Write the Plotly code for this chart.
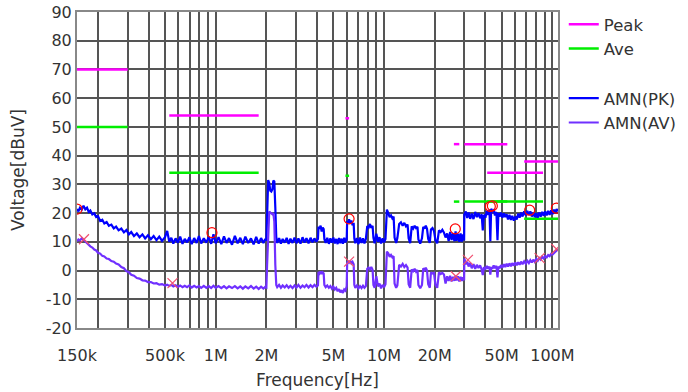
import math
import plotly.graph_objects as go

# ---------------- data (frequencies in MHz, levels in dBuV) ----------------
freq_mhz = [
    0.150, 0.153, 0.156, 0.160, 0.164, 0.168, 0.172, 0.176, 0.180, 0.185,
    0.190, 0.195, 0.200, 0.206, 0.212, 0.218, 0.225, 0.232, 0.240, 0.248,
    0.256, 0.265, 0.275, 0.285, 0.295, 0.305, 0.315, 0.327, 0.340, 0.353,
    0.367, 0.381, 0.396, 0.412, 0.428, 0.445, 0.462, 0.480, 0.500, 0.515,
    0.530, 0.545, 0.560, 0.578, 0.596, 0.615, 0.635, 0.655, 0.676, 0.698,
    0.72, 0.745, 0.77, 0.795, 0.82, 0.85, 0.88, 0.91, 0.94, 0.97,
    1.0, 1.04, 1.08, 1.12, 1.16, 1.2, 1.25, 1.3, 1.35, 1.4,
    1.45, 1.5, 1.56, 1.62, 1.68, 1.74, 1.8, 1.86, 1.92, 1.97,
    2.0, 2.02, 2.05, 2.08, 2.11, 2.14, 2.17, 2.2, 2.23, 2.26,
    2.29, 2.32, 2.38, 2.44, 2.5, 2.57, 2.64, 2.71, 2.78, 2.86,
    2.94, 3.02, 3.1, 3.19, 3.28, 3.37, 3.46, 3.56, 3.66, 3.76,
    3.86, 3.96, 4.05, 4.08, 4.14, 4.2, 4.26, 4.32, 4.38, 4.42,
    4.5, 4.6, 4.7, 4.8, 4.9, 5.0, 5.1, 5.2, 5.3, 5.4,
    5.5, 5.6, 5.7, 5.8, 5.9, 6.0, 6.04, 6.12, 6.2, 6.3,
    6.4, 6.5, 6.6, 6.66, 6.75, 6.9, 7.05, 7.2, 7.35, 7.5,
    7.65, 7.8, 7.95, 8.1, 8.25, 8.4, 8.55, 8.65, 8.8, 9.0,
    9.2, 9.4, 9.6, 9.8, 10.0, 10.2, 10.4, 10.6, 10.8, 11.0,
    11.2, 11.4, 11.55, 11.8, 12.0, 12.3, 12.6, 12.9, 13.2, 13.5,
    13.8, 14.0, 14.3, 14.6, 14.9, 15.2, 15.5, 15.8, 16.0, 16.4,
    16.8, 17.1, 17.4, 17.7, 18.0, 18.3, 18.7, 19.0, 19.4, 19.8,
    20.2, 20.7, 21.2, 21.7, 22.2, 22.7, 23.2, 23.7, 24.2, 24.7,
    25.2, 25.7, 26.2, 26.6, 27.0, 27.5, 28.0, 28.5, 29.0, 29.5,
    29.9, 30.0, 30.6, 31.2, 31.8, 32.5, 33.2, 34.0, 34.8, 35.6,
    36.4, 37.2, 38.0, 38.6, 39.2, 40.0, 40.8, 41.6, 42.3, 42.8,
    43.3, 44.0, 44.8, 45.6, 46.5, 47.2, 47.8, 48.6, 49.5, 50.5,
    51.5, 52.5, 53.5, 54.5, 55.6, 56.7, 57.8, 59.0, 60.2, 61.4,
    62.6, 63.9, 65.2, 66.5, 68.0, 69.5, 71.0, 72.5, 74.0, 75.5,
    77.0, 78.6, 80.2, 81.8, 83.5, 85.2, 87.0, 88.8, 90.6, 92.5,
    94.4, 96.3, 98.3, 100.3, 102.4, 104.5, 106.0, 108.0,
]

amn_pk = [
    21.4, 20.6, 21.8, 21.2, 22.6, 21.3, 21.9, 20.4, 20.9, 19.5,
    19.9, 18.6, 18.9, 17.3, 17.7, 16.4, 16.9, 15.6, 16.0, 14.7,
    15.3, 14.0, 14.6, 13.3, 14.1, 12.6, 13.4, 12.0, 12.9, 11.6,
    12.6, 11.2, 12.3, 10.9, 12.0, 10.6, 11.8, 10.3, 11.6, 13.8,
    10.0, 11.4, 9.4, 11.2, 9.7, 11.8, 9.3, 11.0, 9.8, 11.6,
    9.2, 11.3, 9.6, 12.0, 9.4, 11.2, 9.7, 11.7, 9.3, 12.6,
    9.5, 11.6, 9.2, 11.9, 9.6, 11.3, 9.0, 12.1, 9.5, 11.4,
    9.2, 11.8, 9.6, 11.2, 9.1, 11.7, 9.4, 11.3, 9.6, 11.0,
    10.4, 18.0, 31.5, 30.5, 27.8, 27.5, 28.2, 31.3, 31.0, 22.0,
    11.5, 9.6, 11.3, 9.4, 11.0, 9.7, 11.4, 9.3, 11.1, 9.6,
    11.5, 9.5, 11.2, 9.4, 11.6, 9.7, 11.3, 9.5, 11.4, 9.8,
    11.2, 10.0, 11.0, 15.2, 14.6, 15.6, 13.6, 15.0, 14.4, 11.0,
    9.6, 11.4, 9.3, 11.2, 9.7, 11.5, 9.4, 11.0, 9.2, 11.3,
    9.5, 11.1, 9.3, 11.4, 9.8, 10.8, 17.2, 16.6, 17.8, 16.4,
    17.4, 15.8, 16.6, 11.2, 9.5, 11.3, 9.2, 11.5, 9.6, 11.2,
    9.4, 11.0, 15.5, 15.0, 16.2, 14.8, 15.6, 11.4, 9.5, 12.8,
    10.0, 11.6, 9.4, 11.2, 9.8, 11.0, 21.2, 20.0, 18.6, 19.2,
    18.2, 18.8, 11.5, 9.6, 11.3, 16.2, 16.8, 15.6, 16.6, 15.4,
    16.0, 11.2, 9.5, 15.4, 14.6, 15.6, 14.8, 15.2, 10.8, 9.4,
    11.2, 15.2, 14.6, 15.6, 14.5, 11.0, 9.6, 14.3, 14.8, 13.8,
    10.6, 9.5, 14.0, 13.4, 14.2, 13.2, 11.5, 12.9, 10.3, 13.4,
    10.6, 13.0, 10.2, 13.6, 10.4, 12.8, 10.0, 12.9, 10.1, 12.6,
    10.5, 19.5, 20.6, 18.3, 20.2, 18.0, 19.8, 17.9, 20.4, 18.6,
    20.0, 18.2, 19.6, 14.0, 19.4, 18.4, 20.8, 19.4, 21.2, 10.2,
    21.5, 20.6, 21.0, 19.2, 20.4, 10.6, 20.0, 18.8, 20.2, 18.4,
    19.9, 18.6, 19.6, 17.8, 19.4, 17.6, 19.0, 17.4, 18.8, 17.8,
    19.8, 18.4, 20.2, 18.8, 20.6, 19.2, 20.8, 19.4, 20.6, 18.8,
    20.2, 18.6, 20.0, 18.4, 20.2, 18.8, 20.4, 19.0, 20.6, 19.2,
    20.8, 19.4, 21.0, 19.6, 21.2, 20.0, 21.4, 20.6,
]

amn_av = [
    10.2, 10.8, 10.5, 11.2, 10.7, 10.0, 9.4, 9.0, 8.4, 8.0,
    7.3, 7.0, 6.2, 5.9, 5.1, 4.9, 4.2, 4.0, 3.3, 3.1,
    2.4, 2.1, 1.2, 0.8, -0.2, -0.6, -1.5, -1.8, -2.6, -2.8,
    -3.4, -3.5, -4.0, -4.0, -4.5, -4.4, -4.9, -4.7, -5.2, -4.9,
    -5.4, -5.0, -5.5, -5.1, -5.7, -5.2, -5.8, -5.3, -5.8, -5.2,
    -5.9, -5.3, -5.9, -5.4, -6.0, -5.3, -6.0, -5.4, -6.1, -5.3,
    -6.0, -5.4, -6.1, -5.4, -6.2, -5.5, -6.1, -5.4, -6.2, -5.5,
    -6.3, -5.5, -6.2, -5.4, -6.3, -5.6, -6.4, -5.6, -6.3, -5.7,
    -5.9, 2.0, 15.5, 20.6, 20.2, 19.8, 19.6, 20.0, 17.0, 2.0,
    -5.0, -5.8, -5.0, -6.0, -5.2, -5.9, -5.1, -6.0, -5.3, -6.1,
    -5.2, -5.9, -5.0, -6.0, -5.2, -5.8, -5.0, -5.9, -5.1, -5.8,
    -5.0, -5.6, -5.2, -0.5, -1.0, -0.3, -1.2, -0.6, -1.0, -5.0,
    -5.8, -5.2, -6.0, -5.4, -6.3, -5.6, -6.6, -6.0, -7.2, -6.5,
    -7.6, -6.8, -7.8, -6.6, -7.0, -5.5, 2.6, 3.3, 2.8, 3.4,
    2.5, 3.0, 2.2, -5.0, -6.0, -5.2, -6.2, -5.4, -6.1, -5.3,
    -6.0, -5.4, 0.6, 1.0, 0.4, 1.2, 0.3, -5.0, -6.0, -2.0,
    -5.5, -4.5, -6.2, -5.0, -5.8, -4.8, 6.6, 6.0, 4.8, 5.4,
    4.6, 5.0, -4.5, -6.0, -5.2, 2.0, 1.4, 2.3, 1.2, 1.9,
    1.0, -4.8, -6.0, 0.4, -0.2, 0.6, -0.4, 0.2, -5.0, -6.2,
    -5.0, 0.8, 0.2, 1.0, 0.0, -4.8, -6.0, -0.6, -1.0, -0.8,
    -5.0, -6.0, -0.6, -1.2, -0.8, -1.4, -4.5, -2.0, -3.6, -1.8,
    -3.8, -2.2, -3.6, -1.8, -3.4, -2.0, -3.8, -2.2, -3.6, -2.4,
    -3.4, 4.2, 2.2, 3.0, 1.4, 2.6, 0.8, 2.2, 0.6, 2.0,
    0.9, 1.8, 0.4, -1.6, 1.2, 0.4, 1.6, 0.6, 1.4, -1.4,
    1.2, 0.6, 1.8, 0.8, 1.6, -2.4, 1.4, 0.8, 1.9, 1.0,
    2.2, 1.2, 2.4, 1.4, 2.5, 1.5, 2.6, 1.7, 2.8, 1.8,
    2.9, 2.0, 3.1, 2.2, 3.2, 2.4, 3.4, 2.6, 3.6, 2.8,
    3.8, 3.0, 4.0, 3.4, 4.4, 3.8, 4.8, 4.2, 5.0, 4.6,
    5.4, 5.0, 5.8, 5.6, 6.2, 6.4, 6.9, 7.4,
]

# detected peaks
pk_mark_f = [0.150, 0.95, 6.2, 26.5, 42.8, 44.0, 73.3, 105.6]
pk_mark_v = [21.4, 13.2, 18.0, 14.5, 22.3, 22.5, 21.0, 21.7]
av_mark_f = [0.165, 0.554, 6.2, 26.7, 31.5, 84.0, 105.6]
av_mark_v = [10.9, -4.4, 3.1, -2.0, 3.7, 4.3, 7.5]

# limit bands (MHz) and levels
peak_start = [0.15, 0.53, 5.9, 26.0, 30.0, 41.0, 68.0]
peak_stop = [0.30, 1.8, 6.2, 28.0, 54.0, 88.0, 108.0]
peak_level = [70, 54, 53, 44, 44, 34, 38]
ave_start = [0.15, 0.53, 5.9, 26.0, 30.0, 41.0, 68.0]
ave_stop = [0.30, 1.8, 6.2, 28.0, 54.0, 88.0, 108.0]
ave_level = [50, 34, 33, 24, 24, 24, 18]

# axis ticks / gridlines
grid_vals = [0.15, 0.2, 0.3, 0.4, 0.5, 0.6, 0.7, 0.8, 0.9,
             1, 2, 3, 4, 5, 6, 7, 8, 9,
             10, 20, 30, 40, 50, 60, 70, 80, 90, 100]
grid_text = ["150k", "", "", "", "500k", "", "", "", "",
             "1M", "2M", "", "", "5M", "", "", "", "",
             "10M", "20M", "", "", "50M", "", "", "", "", "100M"]
y_ticks = [-20, -10, 0, 10, 20, 30, 40, 50, 60, 70, 80, 90]
y_text = ["-20", "-10", "0", "10", "20", "30", "40", "50", "60", "70", "80", "90"]


def segments(starts, stops, levels):
    xs, ys = [], []
    for a, b, v in zip(starts, stops, levels):
        xs += [a, b, None]
        ys += [v, v, None]
    return xs, ys


fig = go.Figure()

px_, py_ = segments(peak_start, peak_stop, peak_level)
ax_, ay_ = segments(ave_start, ave_stop, ave_level)

fig.add_trace(go.Scatter(x=px_, y=py_, mode="lines", name="Peak",
                         line=dict(color="#FF00FF", width=2.5),
                         legendgroup="lim"))
fig.add_trace(go.Scatter(x=ax_, y=ay_, mode="lines", name="Ave",
                         line=dict(color="#00EE00", width=2.5),
                         legendgroup="lim"))
fig.add_trace(go.Scatter(x=freq_mhz, y=amn_pk, mode="lines", name="AMN(PK)",
                         line=dict(color="#0000FF", width=2.2),
                         legendgroup="meas"))
fig.add_trace(go.Scatter(x=freq_mhz, y=amn_av, mode="lines", name="AMN(AV)",
                         line=dict(color="#7030FF", width=2.2),
                         legendgroup="meas"))
fig.add_trace(go.Scatter(x=pk_mark_f, y=pk_mark_v, mode="markers", showlegend=False,
                         marker=dict(symbol="circle-open", size=10, color="#FF0000",
                                     line=dict(width=1.2))))
fig.add_trace(go.Scatter(x=av_mark_f, y=av_mark_v, mode="markers", showlegend=False,
                         marker=dict(symbol="x-thin-open", size=10, color="#F05070",
                                     line=dict(width=1.2, color="#F05070"))))

font_fam = "DejaVu Sans"
txt_col = "#333333"
fig.update_layout(
    width=688, height=392,
    margin=dict(l=77, r=130, t=12, b=64, autoexpand=False),
    plot_bgcolor="white", paper_bgcolor="white",
    font=dict(family=font_fam, size=16, color=txt_col),
    legend=dict(x=1.012, y=1.016, xanchor="left", yanchor="top",
                traceorder="grouped", tracegroupgap=25,
                font=dict(family=font_fam, size=16.5, color=txt_col),
                bgcolor="rgba(0,0,0,0)"),
)
fig.update_xaxes(
    type="log", range=[math.log10(0.15), math.log10(108)],
    tickmode="array", tickvals=grid_vals, ticktext=grid_text,
    showgrid=True, gridcolor="#555555", gridwidth=1.5,
    showline=True, mirror=True, linecolor="#888888", linewidth=2,
    ticks="", ticklabelstandoff=12, zeroline=False, automargin=False,
    title=dict(text="Frequency[Hz]", standoff=10,
               font=dict(family=font_fam, size=17, color=txt_col)),
)
fig.update_yaxes(
    range=[-20, 90], tickmode="array", tickvals=y_ticks, ticktext=y_text,
    showgrid=True, gridcolor="#555555", gridwidth=1.5,
    showline=True, mirror=True, linecolor="#888888", linewidth=2,
    ticks="", zeroline=False, automargin=False,
    title=dict(text="Voltage[dBuV]", standoff=17,
               font=dict(family=font_fam, size=17, color=txt_col)),
)

# remove the default 8px page margin so the figure sits at the window origin
fig.write_html("out.html", config={"displayModeBar": False},
               post_script="document.body.style.margin='0';")
